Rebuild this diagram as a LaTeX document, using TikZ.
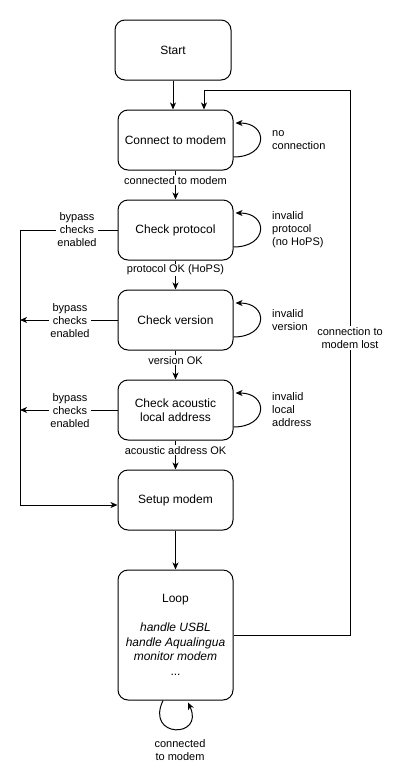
\documentclass[tikz,border=0pt]{standalone}
\usepackage{fontspec}
\setmainfont{Liberation Sans}
\usetikzlibrary{arrows.meta}
\begin{document}
\begin{tikzpicture}[x=1pt,y=-1pt,
  state/.style={draw,line width=1pt,rounded corners=10pt,minimum width=115pt,minimum height=60pt,align=center,font=\fontsize{12}{14.5}\selectfont,inner sep=2pt},
  arr/.style={line width=1pt,-{Stealth[length=7pt,width=6pt,inset=2pt]}},
  ln/.style={line width=1pt},
  lbl/.style={font=\fontsize{11}{13}\selectfont,align=center,inner sep=1pt},
  lblw/.style={lbl,fill=white},
  side/.style={font=\fontsize{11}{13}\selectfont,align=left,anchor=west,inner sep=0pt}]
\useasboundingbox (0,0) rectangle (400,780);
\node[state,minimum width=116pt] (start) at (173,50) {Start};
\node[state] (cm) at (175.5,140) {Connect to modem};
\node[state] (cp) at (175.5,230) {Check protocol};
\node[state] (cv) at (175.5,320) {Check version};
\node[state] (ca) at (175.5,410) {Check acoustic\\local address};
\node[state] (sm) at (175.5,500) {Setup modem};
\node[state,minimum height=130pt] (lp) at (175.5,635) {Loop\\ \\ \textit{handle USBL}\\ \textit{handle Aqualingua}\\ \textit{monitor modem}\\ ...};

% main chain
\draw[arr] (start.south) -- (start.south |- cm.north);
\draw[arr] (cm.south) -- (cp.north) node[lblw,pos=0.33] (l1) {connected to modem};
\draw[arr] (cp.south) -- (cv.north) node[lblw,pos=0.33] (l2) {protocol OK (HoPS)};
\draw[arr] (cv.south) -- (ca.north) node[lblw,pos=0.33] (l3) {version OK};
\draw[arr] (ca.south) -- (sm.north) node[lblw,pos=0.33] (l4) {acoustic address OK};
\draw[arr] (sm.south) -- (lp.north);

% self loops
\foreach \n in {cm,cp,cv,ca}{
  \draw[arr] ([yshift=-17pt]\n.east) .. controls +(35,0) and +(33,0) .. ([xshift=2pt,yshift=17pt]\n.east);
}
\node[side] (n1) at (272,140) {no\\connection};
\node[side] (n2) at (272,230) {invalid\\protocol\\(no HoPS)};
\node[side] (n3) at (272,320) {invalid\\version};
\node[side] (n4) at (272,410) {invalid\\local\\address};

% bypass
\coordinate (b1) at (20,230);
\coordinate (b2) at (20,320);
\coordinate (b3) at (20,410);
\draw[arr] (cp.west) -- (b1) |- ([yshift=-5pt]sm.west);
\node[lblw] (bl1) at (77,230) {bypass\\checks\\enabled};
\draw[arr] (cv.west) -- (b2);
\node[lblw] (bl2) at (70,321) {bypass\\checks\\enabled};
\draw[arr] (ca.west) -- (b3);
\node[lblw] (bl3) at (70,411) {bypass\\checks\\enabled};

% connection lost
\coordinate (rt) at (350,90);
\coordinate (ct) at (204,90);
\draw[arr] (lp.east) -| (rt) -- (ct) -- (ct |- cm.north);
\node[lblw] (cl) at (350,338) {connection to\\modem lost};

% loop self
\draw[arr] ([xshift=-12.5pt]lp.south) .. controls +(-18,38) and +(17,36) .. ([xshift=12.5pt,yshift=-2pt]lp.south);
\node[lbl] (cl2) at (180,750) {connected\\to modem};
\end{tikzpicture}
\end{document}
